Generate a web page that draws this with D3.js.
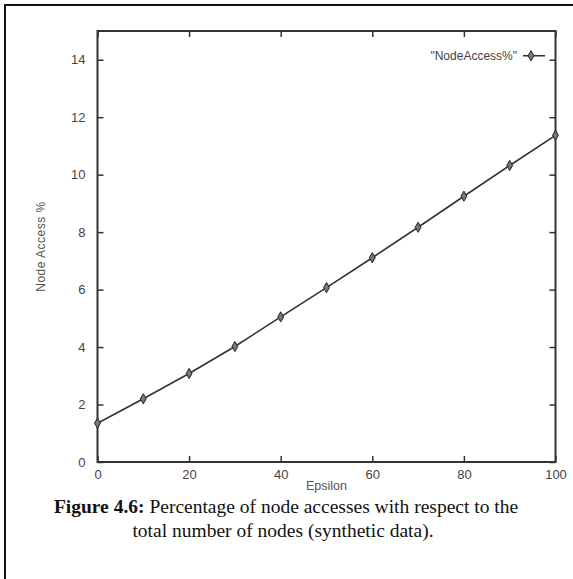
<!DOCTYPE html>
<html>
<head>
<meta charset="utf-8">
<script src="https://cdn.jsdelivr.net/npm/d3@7"></script>
<style>
  body { margin: 0; background: #fff; }
  svg { display: block; }
</style>
</head>
<body>
<svg id="container" width="573" height="579"></svg>
<script>
const epsilon = [0, 10, 20, 30, 40, 50, 60, 70, 80, 90, 100]
const nodeAccess = [1.35, 2.2, 3.08, 4.02, 5.05, 6.07, 7.11, 8.17, 9.25, 10.32, 11.37]
const xTicks = [0, 20, 40, 60, 80, 100]
const yTicks = [0, 2, 4, 6, 8, 10, 12, 14]
const seriesName = '"NodeAccess%"'
const captionBold = 'Figure 4.6:'
const captionLine1 = ' Percentage of node accesses with respect to the'
const captionLine2 = 'total number of nodes (synthetic data).'

const svg = d3.select('#container')
const plotL = 97.5, plotR = 555.5, plotT = 31, plotB = 462

// outer frame (right and bottom edges fall outside the picture)
svg.append('rect')
  .attr('x', 5).attr('y', 5)
  .attr('width', 600).attr('height', 600)
  .attr('fill', 'none').attr('stroke', '#111').attr('stroke-width', 2)

const x = d3.scaleLinear().domain([0, 100]).range([plotL, plotR])
const y = d3.scaleLinear().domain([0, 15]).range([plotB, plotT])

const tickFont = 'Liberation Sans Narrow, Arial Narrow, Liberation Sans, sans-serif'

const styleAxis = (g) => {
  g.select('.domain').remove()
  g.selectAll('line').attr('stroke', '#333').attr('stroke-width', 1.5)
  g.selectAll('text')
    .attr('fill', '#444')
    .style('font-family', tickFont)
    .style('font-size', '13px')
}

// ticks, inward on all four sides
svg.append('g')
  .attr('transform', `translate(0,${plotB})`)
  .call(d3.axisBottom(x).tickValues(xTicks).tickSize(-6).tickPadding(8))
  .call(styleAxis)
svg.append('g')
  .attr('transform', `translate(0,${plotT})`)
  .call(d3.axisTop(x).tickValues(xTicks).tickSize(-6).tickFormat(''))
  .call(styleAxis)
svg.append('g')
  .attr('transform', `translate(${plotL},0)`)
  .call(d3.axisLeft(y).tickValues(yTicks).tickSize(-6).tickPadding(12))
  .call(styleAxis)
svg.append('g')
  .attr('transform', `translate(${plotR},0)`)
  .call(d3.axisRight(y).tickValues(yTicks).tickSize(-6).tickFormat(''))
  .call(styleAxis)

svg.append('rect')
  .attr('x', plotL).attr('y', plotT)
  .attr('width', plotR - plotL).attr('height', plotB - plotT)
  .attr('fill', 'none').attr('stroke', '#333').attr('stroke-width', 2)

// axis titles
svg.append('text')
  .attr('x', (plotL + plotR) / 2).attr('y', 490)
  .attr('text-anchor', 'middle')
  .attr('fill', '#555')
  .style('font-family', tickFont).style('font-size', '12.5px')
  .text('Epsilon')

svg.append('text')
  .attr('transform', `translate(45,${(plotT + plotB) / 2}) rotate(-90)`)
  .attr('text-anchor', 'middle')
  .attr('fill', '#555')
  .style('font-family', 'Liberation Sans, Arial, sans-serif').style('font-size', '12px')
  .style('letter-spacing', '0.5px')
  .text('Node Access %')

// series
const pts = epsilon.map((e, i) => [e, nodeAccess[i]])
const line = d3.line().x((d) => x(d[0])).y((d) => y(d[1]))

svg.append('path')
  .datum(pts)
  .attr('d', line)
  .attr('fill', 'none').attr('stroke', '#333').attr('stroke-width', 1.6)

const marker = (g) => {
  g.append('path')
    .attr('d', d3.symbol(d3.symbolDiamond, 30))
    .attr('fill', '#777').attr('stroke', '#222').attr('stroke-width', 1)
}

svg.append('g').selectAll('g')
  .data(pts)
  .enter()
  .append('g')
  .attr('transform', (d) => `translate(${x(d[0])},${y(d[1])})`)
  .call(marker)

// legend
const legY = y(14) - 4
svg.append('text')
  .attr('x', 517).attr('y', legY)
  .attr('dy', '0.35em')
  .attr('text-anchor', 'end')
  .attr('fill', '#444')
  .style('font-family', tickFont).style('font-size', '12px')
  .text(seriesName)
svg.append('line')
  .attr('x1', 523).attr('x2', 545).attr('y1', legY).attr('y2', legY)
  .attr('stroke', '#333').attr('stroke-width', 1.6)
svg.append('g')
  .attr('transform', `translate(531,${legY})`)
  .call(marker)

// caption
const cap = svg.append('g')
  .style('font-family', 'Liberation Serif, Times New Roman, serif')
  .style('font-size', '19.5px')
  .attr('fill', '#111')
const t1 = cap.append('text')
  .attr('x', 286).attr('y', 513)
  .attr('text-anchor', 'middle')
t1.append('tspan').attr('font-weight', 'bold').text(captionBold)
t1.append('tspan').text(captionLine1)
cap.append('text')
  .attr('x', 283).attr('y', 537)
  .attr('text-anchor', 'middle')
  .text(captionLine2)
</script>
</body>
</html>
